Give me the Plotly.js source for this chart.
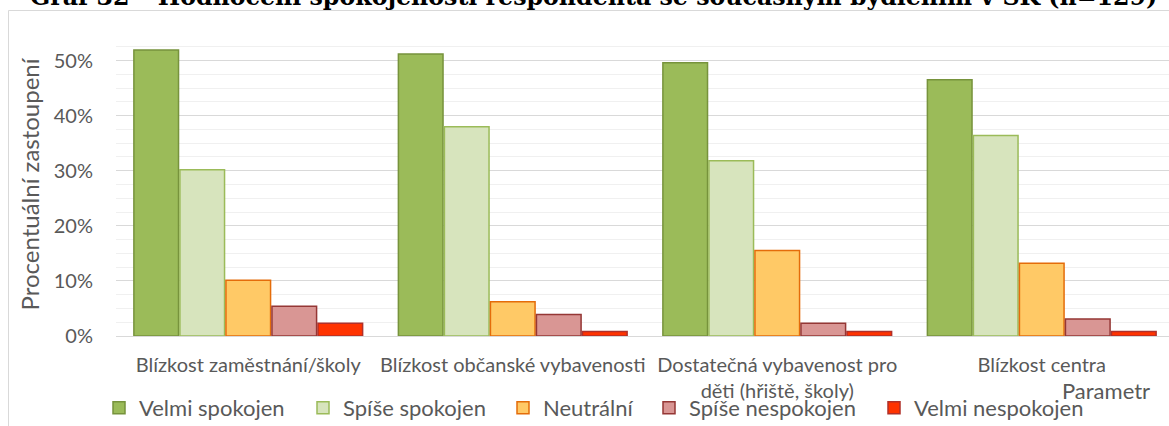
<!DOCTYPE html>
<html>
<head>
<meta charset="utf-8">
<script src="https://cdn.plot.ly/plotly-3.0.1.min.js"></script>
<style>
  html, body { margin: 0; padding: 0; overflow: hidden; background: #fff; }
  #chart { width: 1180px; height: 426px; }
</style>
</head>
<body>
<div id="chart"></div>
<script>
// ---- data (percent of respondents, n = 129) ----
const categories = [
  'Blízkost zaměstnání/školy',
  'Blízkost občanské vybavenosti',
  'Dostatečná vybavenost pro<br>děti (hřiště, školy)',
  'Blízkost centra'
];
const seriesNames = ['Velmi spokojen', 'Spíše spokojen', 'Neutrální', 'Spíše nespokojen', 'Velmi nespokojen'];
const velmiSpokojen    = [51.9, 51.2, 49.6, 46.5];
const spiseSpokojen    = [30.2, 38.0, 31.8, 36.4];
const neutralni        = [10.1, 6.2, 15.5, 13.2];
const spiseNespokojen  = [5.4, 3.9, 2.3, 3.1];
const velmiNespokojen  = [2.3, 0.8, 0.8, 0.8];
const yTickValues = [0, 10, 20, 30, 40, 50];
const yTickLabels = ['0%', '10%', '20%', '30%', '40%', '50%'];

const chartTitle = 'Graf 32 – Hodnocení spokojenosti respondenta se současným bydlením v SK (n=129)';
const yTitle = 'Procentuální zastoupení';
const xTitle = 'Parametr';

// ---- styles ----
const fills = ['#9BBB59', '#D7E4BD', '#FFC966', '#D99694', '#FF3300'];
const lines = ['#77933C', '#9BBB59', '#E46C0A', '#953735', '#B0302A'];
const seriesValues = [velmiSpokojen, spiseSpokojen, neutralni, spiseNespokojen, velmiNespokojen];
const gray = '#595959';
const FONT = 'Lato, "Open Sans", sans-serif';

const W = 1180, H = 426;
const M = { l: 116, r: 6, t: 33, b: 90 };
const pw = W - M.l - M.r, ph = H - M.t - M.b;
const px2x = px => (px - M.l) / pw;
const px2y = py => (H - M.b - py) / ph;

// one small legend per series so each entry sits where the original has it
const legendLeft = [99, 303, 503, 649, 874];
const legendIds = ['legend', 'legend2', 'legend3', 'legend4', 'legend5'];

const traces = seriesNames.map((name, i) => ({
  type: 'bar',
  name: name,
  x: categories,
  y: seriesValues[i],
  legend: legendIds[i],
  marker: { color: fills[i], line: { color: lines[i], width: 1.5 } },
  hoverinfo: 'name+y'
}));

const layout = {
  width: W, height: H,
  margin: { l: M.l, r: M.r, t: M.t, b: M.b, pad: 0, autoexpand: false },
  paper_bgcolor: '#fff', plot_bgcolor: '#fff',
  barmode: 'group', bargap: 0.13, bargroupgap: 0.03,
  xaxis: {
    type: 'category',
    tickfont: { family: FONT, size: 20, color: gray },
    showline: true, linecolor: '#D9D9D9', linewidth: 1,
    ticks: '', ticklabelstandoff: 11,
    showgrid: false, zeroline: false, automargin: false
  },
  yaxis: {
    range: [0, 55],
    tickvals: yTickValues, ticktext: yTickLabels,
    tickfont: { family: FONT, size: 20, color: gray },
    ticklabelstandoff: 22,
    showgrid: true, gridcolor: '#D9D9D9', gridwidth: 1,
    minor: { dtick: 2.5, tick0: 0, showgrid: true, gridcolor: '#F0F0F0', gridwidth: 1 },
    zeroline: false, showline: false, automargin: false,
    title: { text: yTitle, font: { family: FONT, size: 24, color: gray }, standoff: 7 }
  },
  showlegend: true,
  annotations: [
    {
      text: '<b>' + chartTitle + '</b>', showarrow: false,
      xref: 'paper', yref: 'paper',
      x: px2x(593.5), y: px2y(-3), xanchor: 'center', yanchor: 'middle',
      font: { family: '"DejaVu Serif", serif', size: 23.7, color: '#000' }
    },
    {
      text: xTitle, showarrow: false,
      xref: 'paper', yref: 'paper',
      x: px2x(1106), y: px2y(390), xanchor: 'center', yanchor: 'middle',
      font: { family: FONT, size: 22, color: gray }
    }
  ],
  shapes: [
    { type: 'line', xref: 'paper', yref: 'paper', x0: px2x(8.5), x1: px2x(8.5), y0: px2y(10.5), y1: px2y(440), line: { color: '#D9D9D9', width: 1 }, layer: 'below' },
    { type: 'line', xref: 'paper', yref: 'paper', x0: px2x(8.5), x1: px2x(1200), y0: px2y(10.5), y1: px2y(10.5), line: { color: '#D9D9D9', width: 1 }, layer: 'below' }
  ]
};

legendIds.forEach((id, i) => {
  layout[id] = {
    orientation: 'h',
    xref: 'container', yref: 'container',
    x: legendLeft[i] / W, xanchor: 'left',
    y: 1 - 387 / H, yanchor: 'top',
    font: { family: FONT, size: 22, color: gray },
    bgcolor: 'rgba(0,0,0,0)'
  };
});

Plotly.newPlot('chart', traces, layout, { displayModeBar: false, staticPlot: true });
</script>
</body>
</html>
